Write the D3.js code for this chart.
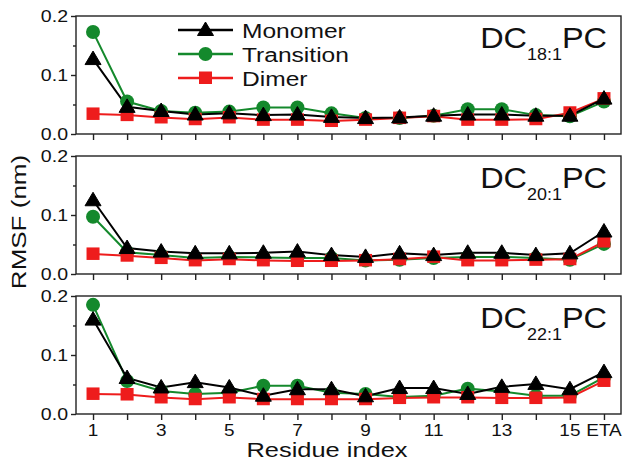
<!DOCTYPE html>
<html>
<head>
<meta charset="utf-8">
<script src="https://cdn.jsdelivr.net/npm/d3@7"></script>
<style>
  html, body { margin: 0; padding: 0; background: #fff; }
  svg { display: block; }
  text { font-family: "Liberation Sans", Arial, sans-serif; fill: #111; }
</style>
</head>
<body>
<svg id="chart" width="625" height="462"></svg>
<script>
// ---------- data ----------
const residues = [1,2,3,4,5,6,7,8,9,10,11,12,13,14,15,16];
const tickLabels = ["1","","3","","5","","7","","9","","11","","13","","15","ETA"];
const panelNames = ["18:1", "20:1", "22:1"];
const seriesNames = ["Monomer", "Transition", "Dimer"];

// DC18:1PC
const monomer18    = [0.127,0.046,0.039,0.033,0.035,0.032,0.033,0.029,0.027,0.028,0.031,0.033,0.033,0.031,0.031,0.060];
const transition18 = [0.173,0.055,0.039,0.036,0.038,0.045,0.045,0.035,0.027,0.027,0.031,0.042,0.042,0.032,0.030,0.055];
const dimer18      = [0.034,0.032,0.028,0.025,0.028,0.024,0.024,0.022,0.024,0.027,0.030,0.024,0.024,0.025,0.036,0.060];
// DC20:1PC
const monomer20    = [0.125,0.044,0.038,0.035,0.035,0.036,0.038,0.032,0.029,0.035,0.032,0.036,0.036,0.032,0.035,0.072];
const transition20 = [0.097,0.037,0.032,0.027,0.029,0.028,0.027,0.027,0.023,0.024,0.027,0.029,0.029,0.027,0.024,0.051];
const dimer20      = [0.034,0.031,0.027,0.023,0.025,0.023,0.022,0.022,0.023,0.025,0.029,0.023,0.023,0.024,0.025,0.055];
// DC22:1PC
const monomer22    = [0.160,0.061,0.045,0.054,0.045,0.031,0.042,0.042,0.030,0.044,0.044,0.034,0.046,0.051,0.042,0.071];
const transition22 = [0.185,0.056,0.039,0.034,0.036,0.048,0.048,0.036,0.034,0.029,0.031,0.043,0.038,0.031,0.031,0.062];
const dimer22      = [0.034,0.033,0.028,0.025,0.028,0.025,0.025,0.025,0.025,0.027,0.028,0.028,0.027,0.027,0.028,0.056];

const yTicks = [0.0, 0.1, 0.2];
const yMinorTicks = [0.05, 0.15];

const panels = [
  {name: panelNames[0], Monomer: monomer18, Transition: transition18, Dimer: dimer18},
  {name: panelNames[1], Monomer: monomer20, Transition: transition20, Dimer: dimer20},
  {name: panelNames[2], Monomer: monomer22, Transition: transition22, Dimer: dimer22}
];

// ---------- styles ----------
const colors = {Monomer: "#000000", Transition: "#14892c", Dimer: "#ee1c1c"};
const drawOrder = ["Transition", "Dimer", "Monomer"];
const HS = 1.15; // horizontal text stretch

// ---------- layout ----------
const svg = d3.select("#chart");
const left = 76, right = 621;
const panelTops = [16, 156, 296];
const panelH = 118;

const x = d3.scaleLinear().domain([0.5, 16.5]).range([left, right]);

function marker(g, type, cx, cy, color) {
  if (type === "Monomer") {
    g.append("path")
      .attr("d", `M${cx},${cy-8} L${cx+8},${cy+5.5} L${cx-8},${cy+5.5} Z`)
      .attr("fill", color).attr("stroke", color).attr("stroke-width", 1);
  } else if (type === "Transition") {
    g.append("circle").attr("cx", cx).attr("cy", cy).attr("r", 7)
      .attr("fill", color);
  } else {
    g.append("rect").attr("x", cx-6.5).attr("y", cy-6.5).attr("width", 13).attr("height", 12.5)
      .attr("fill", color);
  }
}

function stretchedText(g, txt, px, py, size, anchor, kx) {
  const t = g.append("g").attr("transform", `translate(${px},${py}) scale(${kx},1)`);
  return t.append("text").attr("x", 0).attr("y", 0)
    .attr("font-size", size).attr("text-anchor", anchor).text(txt);
}

panels.forEach((p, i) => {
  const top = panelTops[i];
  const y = d3.scaleLinear().domain([0, 0.2]).range([top + panelH, top]);
  const g = svg.append("g");

  drawOrder.forEach(s => {
    const vals = p[s];
    const line = d3.line().x((d, j) => x(residues[j])).y(d => y(d));
    g.append("path").datum(vals).attr("d", line)
      .attr("fill", "none").attr("stroke", colors[s]).attr("stroke-width", 2);
  });
  drawOrder.forEach(s => {
    const mg = g.append("g");
    p[s].forEach((v, j) => marker(mg, s, x(residues[j]), y(v), colors[s]));
  });

  // frame
  g.append("rect").attr("x", left).attr("y", top).attr("width", right-left).attr("height", panelH)
    .attr("fill", "none").attr("stroke", "#222").attr("stroke-width", 1.4);

  // x ticks
  const xAxis = d3.axisBottom(x).tickValues(residues).tickSize(6).tickPadding(6)
    .tickFormat(() => "");
  const xa = g.append("g").attr("transform", `translate(0,${top+panelH})`).call(xAxis);
  xa.select(".domain").remove();
  xa.selectAll(".tick line").attr("stroke", "#222").attr("stroke-width", 1.4);
  if (i === 2) {
    residues.forEach((r, j) => {
      if (tickLabels[j]) stretchedText(g, tickLabels[j], x(r), top + panelH + 22, 16.5, "middle", HS);
    });
  }

  // y ticks
  const yAxis = d3.axisLeft(y).tickValues(yTicks).tickSize(5).tickFormat(() => "");
  const ya = g.append("g").attr("transform", `translate(${left},0)`).call(yAxis);
  ya.select(".domain").remove();
  ya.selectAll(".tick line").attr("stroke", "#222").attr("stroke-width", 1.4);
  const yMinor = d3.axisLeft(y).tickValues(yMinorTicks).tickSize(3).tickFormat(() => "");
  const ym = g.append("g").attr("transform", `translate(${left},0)`).call(yMinor);
  ym.select(".domain").remove();
  ym.selectAll(".tick line").attr("stroke", "#222").attr("stroke-width", 1.4);
  yTicks.forEach(t => {
    stretchedText(g, d3.format(".1f")(t), left - 8, y(t) + 6, 17, "end", HS);
  });

  // panel label
  const lg = g.append("g").attr("transform", `translate(607,${top+32}) scale(1.12,1)`);
  const lt = lg.append("text").attr("text-anchor", "end").attr("font-size", 29);
  lt.append("tspan").text("DC");
  lt.append("tspan").attr("font-size", 16).attr("dy", 12).text(p.name);
  lt.append("tspan").attr("dy", -12).text("PC");
});

// legend
const legY = [30, 54, 78];
seriesNames.forEach((s, k) => {
  const lg = svg.append("g");
  lg.append("line").attr("x1", 178).attr("x2", 233).attr("y1", legY[k]).attr("y2", legY[k])
    .attr("stroke", colors[s]).attr("stroke-width", 2.5);
  marker(lg, s, 205.5, legY[k], colors[s]);
  stretchedText(lg, s, 242, legY[k] + 8, 21, "start", 1.17);
});

// axis titles
stretchedText(svg, "Residue index", 327, 457, 20, "middle", 1.27);
svg.append("g").attr("transform", `translate(26,222) rotate(-90) scale(1.3,1)`)
  .append("text").attr("text-anchor", "middle").attr("font-size", 20).text("RMSF (nm)");
</script>
</body>
</html>
